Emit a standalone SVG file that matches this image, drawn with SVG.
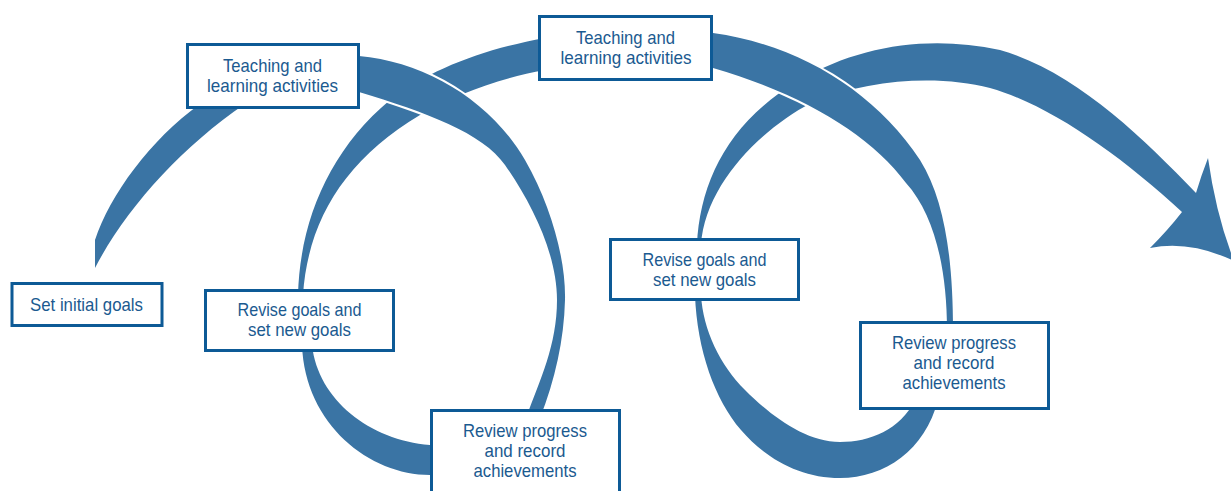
<svg xmlns="http://www.w3.org/2000/svg" width="1231" height="491" viewBox="0 0 1231 491">
  <style>
    .band { fill: #3a74a4; }
    .over { fill: #3a74a4; stroke: #ffffff; stroke-width: 4; paint-order: stroke; stroke-linejoin: round; }
    .box { fill: #ffffff; stroke: #0d5a96; stroke-width: 3; }
    .lbl { font-family: "Liberation Sans", Arial, sans-serif; font-size: 19px; fill: #1b5a90; text-anchor: middle; }
  </style>

  <!-- spiral ribbon connecting the stages -->
  <g id="connectors">
    <!-- Set initial goals -> Teaching and learning activities (1) -->
    <path id="c1" class="band" d="M95,240 C110,195 150,140 200,104 L250,100 L245,104 C180,148 125,210 95,268 Z"/>
    <!-- Revise goals (1) -> Teaching and learning activities (2) -->
    <path id="c4" class="band" d="M298,295 C300,220 330,150 390,100 C430,70 480,50 545,38 L545,70 C500,78 455,95 420,115 C345,160 308,220 303,295 Z"/>
    <!-- Teaching and learning activities (1) -> Review progress (1), passes over c4 -->
    <path id="c2" class="over" d="M350,56 L359,56 C425,62 490,100 525,160 C551,205 566,260 565,300 C564,340 555,380 540,418 L526,418 C540,380 557,345 557,300 C557,255 533,205 505,165 C483,133 425,112 359,92 L350,92 Z"/>
    <!-- Review progress (1) -> Revise goals (1) -->
    <path id="c3" class="band" d="M440,475 L430,475 C370,475 305,425 302,345 L312,345 C318,400 370,440 430,445 L440,445 Z"/>
    <!-- Revise goals (2) -> onward arrow -->
    <path id="c7" class="band" d="M697,245 C700,180 730,120 800,80 C860,45 930,35 1000,50 C1075,72 1140,135 1196,193 Q1201,176 1208,158 Q1216,215 1234,261 Q1190,240 1150,248 Q1168,230 1182,212 C1120,155 1050,105 990,88 C940,75 870,78 811,103 C760,130 705,185 701,245 Z"/>
    <!-- Teaching and learning activities (2) -> Review progress (2), passes over c7 -->
    <path id="c5" class="over" d="M705,33 L713,33 C800,45 875,92 920,160 C945,200 953,260 953,330 L947,330 C947,270 935,215 906,183 C870,135 805,95 713,68 L705,68 Z"/>
    <!-- Review progress (2) -> Revise goals (2) -->
    <path id="c6" class="band" d="M938,400 C925,450 885,478 840,478 C800,478 765,458 741,430 C715,400 697,350 695,295 L701,295 C703,330 720,365 745,390 C770,415 805,442 840,442 C870,442 900,430 915,400 Z"/>
  </g>

  <g id="set-initial-goals">
    <rect class="box" x="12" y="283.5" width="150" height="42"/>
    <text class="lbl" x="86.5" y="311" textLength="113" lengthAdjust="spacingAndGlyphs">Set initial goals</text>
  </g>

  <g id="teaching-1">
    <rect class="box" x="187.5" y="44.5" width="171" height="63"/>
    <text class="lbl" x="272.5" y="72" textLength="99" lengthAdjust="spacingAndGlyphs">Teaching and</text>
    <text class="lbl" x="272.5" y="91.5" textLength="131" lengthAdjust="spacingAndGlyphs">learning activities</text>
  </g>

  <g id="teaching-2">
    <rect class="box" x="539.5" y="16.5" width="172" height="63"/>
    <text class="lbl" x="625.5" y="44" textLength="99" lengthAdjust="spacingAndGlyphs">Teaching and</text>
    <text class="lbl" x="626" y="63.5" textLength="131" lengthAdjust="spacingAndGlyphs">learning activities</text>
  </g>

  <g id="revise-1">
    <rect class="box" x="205.5" y="290.5" width="188" height="60"/>
    <text class="lbl" x="299.5" y="316" textLength="124" lengthAdjust="spacingAndGlyphs">Revise goals and</text>
    <text class="lbl" x="299.5" y="336" textLength="103" lengthAdjust="spacingAndGlyphs">set new goals</text>
  </g>

  <g id="revise-2">
    <rect class="box" x="610.5" y="239.5" width="188" height="60"/>
    <text class="lbl" x="704.5" y="266" textLength="124" lengthAdjust="spacingAndGlyphs">Revise goals and</text>
    <text class="lbl" x="704.5" y="286" textLength="103" lengthAdjust="spacingAndGlyphs">set new goals</text>
  </g>

  <g id="review-1">
    <rect class="box" x="431.5" y="410.5" width="188" height="95"/>
    <text class="lbl" x="525" y="437" textLength="124" lengthAdjust="spacingAndGlyphs">Review progress</text>
    <text class="lbl" x="525" y="457" textLength="81" lengthAdjust="spacingAndGlyphs">and record</text>
    <text class="lbl" x="525" y="477" textLength="103" lengthAdjust="spacingAndGlyphs">achievements</text>
  </g>

  <g id="review-2">
    <rect class="box" x="860.5" y="322.5" width="188" height="86"/>
    <text class="lbl" x="954" y="349" textLength="124" lengthAdjust="spacingAndGlyphs">Review progress</text>
    <text class="lbl" x="954" y="369" textLength="81" lengthAdjust="spacingAndGlyphs">and record</text>
    <text class="lbl" x="954" y="389" textLength="103" lengthAdjust="spacingAndGlyphs">achievements</text>
  </g>
</svg>
